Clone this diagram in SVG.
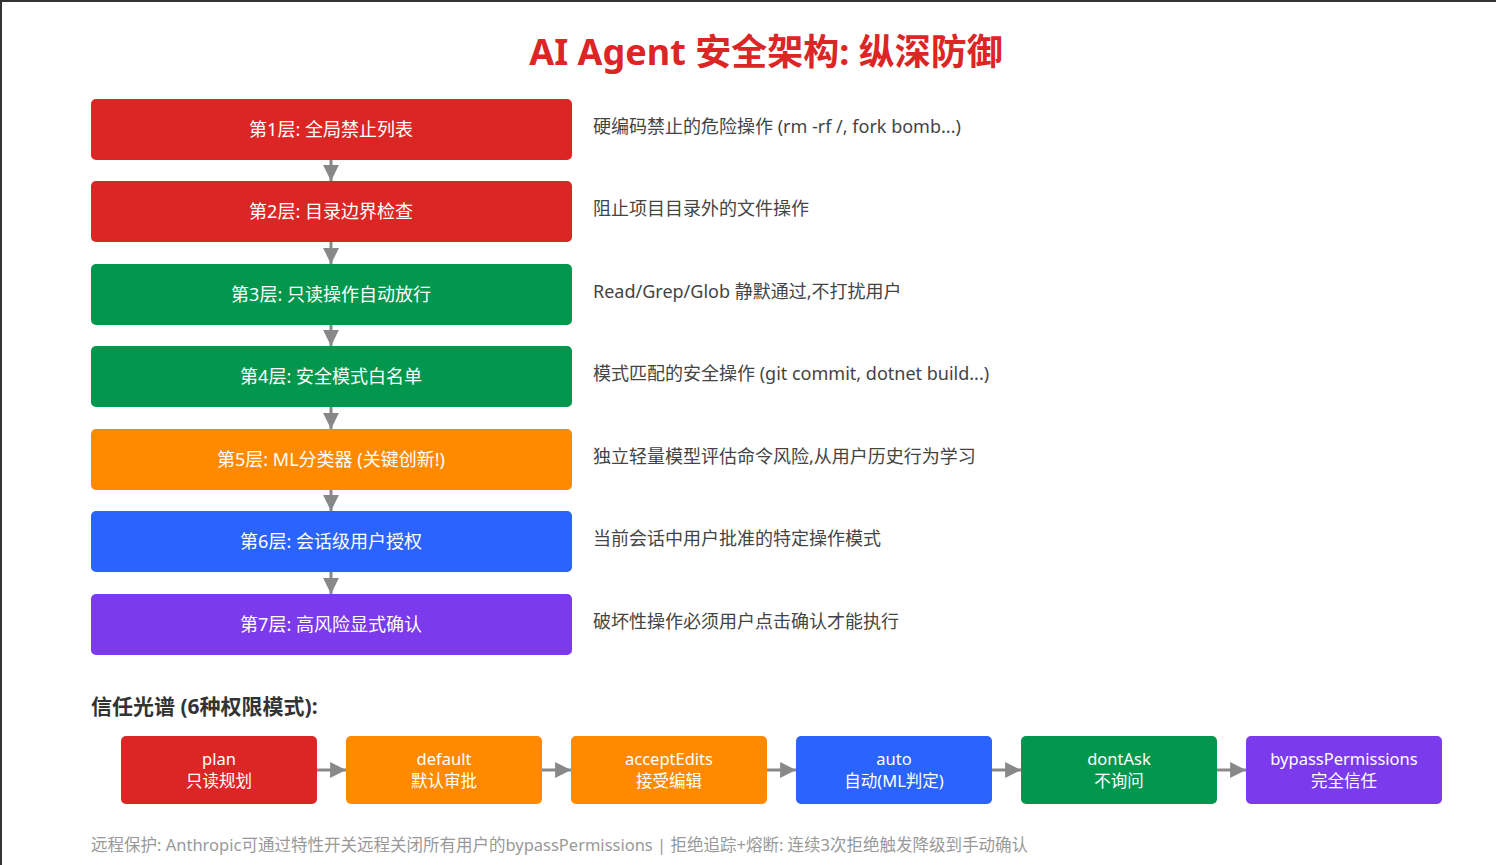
<svg xmlns="http://www.w3.org/2000/svg" width="1496" height="865" viewBox="0 0 1496 865">
<defs>
<style>
text{font-family:"Noto Sans","Noto Sans CJK SC",sans-serif}
.title{font-size:36px;font-weight:bold;fill:#DC2626}
.lbl{font-size:18px;fill:#fff}
.desc{font-size:18px;fill:#444}
.head{font-size:21px;font-weight:bold;fill:#333}
.tl{font-size:16.5px;fill:#fff}
.foot{font-size:16.5px;fill:#999}
.red{fill:#DC2626}.green{fill:#03974D}.orange{fill:#FF8A00}.blue{fill:#2B63FF}.purple{fill:#7C3AED}
.conn{stroke:#888;stroke-width:3;fill:none}
</style>
<marker id="ah" viewBox="0 0 10 10" refX="10" refY="5" markerWidth="5.3" markerHeight="5.3" orient="auto" markerUnits="strokeWidth">
<path d="M0,0 L10,5 L0,10 z" fill="#888"/>
</marker>
</defs>
<rect width="1496" height="865" fill="#fff"/>
<path d="M1,865 V1 H1496" stroke="#333" stroke-width="2" fill="none"/>
<text class="title" x="766" y="65" text-anchor="middle">AI Agent 安全架构: 纵深防御</text>

<g id="connectors">
<line class="conn" x1="331" y1="160" x2="331" y2="181" marker-end="url(#ah)"/>
<line class="conn" x1="331" y1="242" x2="331" y2="264" marker-end="url(#ah)"/>
<line class="conn" x1="331" y1="325" x2="331" y2="346" marker-end="url(#ah)"/>
<line class="conn" x1="331" y1="407" x2="331" y2="429" marker-end="url(#ah)"/>
<line class="conn" x1="331" y1="490" x2="331" y2="511" marker-end="url(#ah)"/>
<line class="conn" x1="331" y1="572" x2="331" y2="594" marker-end="url(#ah)"/>
<line class="conn" x1="317" y1="770" x2="346" y2="770" marker-end="url(#ah)"/>
<line class="conn" x1="542" y1="770" x2="571" y2="770" marker-end="url(#ah)"/>
<line class="conn" x1="767" y1="770" x2="796" y2="770" marker-end="url(#ah)"/>
<line class="conn" x1="992" y1="770" x2="1021" y2="770" marker-end="url(#ah)"/>
<line class="conn" x1="1217" y1="770" x2="1246" y2="770" marker-end="url(#ah)"/>
</g>

<g id="layer1"><rect class="red" x="91" y="99" width="481" height="61" rx="5"/><text class="lbl" x="331" y="136" text-anchor="middle">第1层: 全局禁止列表</text><text class="desc" x="593" y="133">硬编码禁止的危险操作 (rm -rf /, fork bomb...)</text></g>
<g id="layer2"><rect class="red" x="91" y="181" width="481" height="61" rx="5"/><text class="lbl" x="331" y="218" text-anchor="middle">第2层: 目录边界检查</text><text class="desc" x="593" y="215">阻止项目目录外的文件操作</text></g>
<g id="layer3"><rect class="green" x="91" y="264" width="481" height="61" rx="5"/><text class="lbl" x="331" y="301" text-anchor="middle">第3层: 只读操作自动放行</text><text class="desc" x="593" y="298">Read/Grep/Glob 静默通过,不打扰用户</text></g>
<g id="layer4"><rect class="green" x="91" y="346" width="481" height="61" rx="5"/><text class="lbl" x="331" y="383" text-anchor="middle">第4层: 安全模式白名单</text><text class="desc" x="593" y="380">模式匹配的安全操作 (git commit, dotnet build...)</text></g>
<g id="layer5"><rect class="orange" x="91" y="429" width="481" height="61" rx="5"/><text class="lbl" x="331" y="466" text-anchor="middle">第5层: ML分类器 (关键创新!)</text><text class="desc" x="593" y="463">独立轻量模型评估命令风险,从用户历史行为学习</text></g>
<g id="layer6"><rect class="blue" x="91" y="511" width="481" height="61" rx="5"/><text class="lbl" x="331" y="548" text-anchor="middle">第6层: 会话级用户授权</text><text class="desc" x="593" y="545">当前会话中用户批准的特定操作模式</text></g>
<g id="layer7"><rect class="purple" x="91" y="594" width="481" height="61" rx="5"/><text class="lbl" x="331" y="631" text-anchor="middle">第7层: 高风险显式确认</text><text class="desc" x="593" y="628">破坏性操作必须用户点击确认才能执行</text></g>

<text class="head" x="91" y="714">信任光谱 (6种权限模式):</text>

<g id="mode-plan"><rect class="red" x="121" y="736" width="196" height="68" rx="5"/><text class="tl" x="219" y="765" text-anchor="middle">plan</text><text class="tl" x="219" y="787" text-anchor="middle">只读规划</text></g>
<g id="mode-default"><rect class="orange" x="346" y="736" width="196" height="68" rx="5"/><text class="tl" x="444" y="765" text-anchor="middle">default</text><text class="tl" x="444" y="787" text-anchor="middle">默认审批</text></g>
<g id="mode-acceptEdits"><rect class="orange" x="571" y="736" width="196" height="68" rx="5"/><text class="tl" x="669" y="765" text-anchor="middle">acceptEdits</text><text class="tl" x="669" y="787" text-anchor="middle">接受编辑</text></g>
<g id="mode-auto"><rect class="blue" x="796" y="736" width="196" height="68" rx="5"/><text class="tl" x="894" y="765" text-anchor="middle">auto</text><text class="tl" x="894" y="787" text-anchor="middle">自动(ML判定)</text></g>
<g id="mode-dontAsk"><rect class="green" x="1021" y="736" width="196" height="68" rx="5"/><text class="tl" x="1119" y="765" text-anchor="middle">dontAsk</text><text class="tl" x="1119" y="787" text-anchor="middle">不询问</text></g>
<g id="mode-bypass"><rect class="purple" x="1246" y="736" width="196" height="68" rx="5"/><text class="tl" x="1344" y="765" text-anchor="middle">bypassPermissions</text><text class="tl" x="1344" y="787" text-anchor="middle">完全信任</text></g>

<text class="foot" x="91" y="851">远程保护: Anthropic可通过特性开关远程关闭所有用户的bypassPermissions | 拒绝追踪+熔断: 连续3次拒绝触发降级到手动确认</text>
</svg>
